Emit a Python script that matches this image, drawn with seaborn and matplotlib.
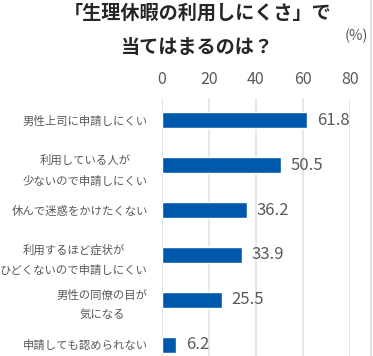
import matplotlib
matplotlib.use("Agg")
import matplotlib.pyplot as plt
from matplotlib.lines import Line2D
import pandas as pd
import seaborn as sns

# data
categories = [
    "男性上司に申請しにくい",
    "利用している人が\n少ないので申請しにくい",
    "休んで迷惑をかけたくない",
    "利用するほど症状が\nひどくないので申請しにくい",
    "男性の同僚の目が\n気になる",
    "申請しても認められない",
]
values = [61.8, 50.5, 36.2, 33.9, 25.5, 6.2]
x_ticks = [0, 20, 40, 60, 80]

title = "「生理休暇の利用しにくさ」で\n当てはまるのは？"
unit = "(%)"

text_gray = "#595959"
bar_blue = "#0058ad"
grid_gray = "#e3e3e3"

sns.set_theme(style="white")
plt.rcParams["font.family"] = ["Noto Sans CJK JP", "DejaVu Sans"]

df = pd.DataFrame({"item": categories, "pct": values})

fig = plt.figure(figsize=(3.73, 3.56), dpi=100)
ax = fig.add_axes([0.434, -0.031, 0.504, 0.756])

sns.barplot(data=df, x="pct", y="item", color=bar_blue, width=0.36,
            saturation=1, ax=ax)

ax.set_xlim(0, 80)
ax.set_xticks(x_ticks)
ax.xaxis.tick_top()
ax.tick_params(axis="x", length=0, pad=7, labelsize=11.5, labelcolor=text_gray)
ax.tick_params(axis="y", length=0, pad=10, labelsize=8.2, labelcolor=text_gray)
for lbl in ax.get_yticklabels():
    lbl.set_multialignment("center")
    lbl.set_linespacing(2.0)
ax.set_xlabel("")
ax.set_ylabel("")

# vertical gridlines
ax.grid(axis="x", color=grid_gray, linewidth=1.2)
ax.set_axisbelow(True)
for s in ax.spines.values():
    s.set_visible(False)
ax.axvline(0, color=grid_gray, linewidth=1.2, zorder=0)

ax.bar_label(ax.containers[0], fmt="%.1f", padding=7, fontsize=12,
             color=text_gray)

fig.text(0.53, 0.99, title, ha="center", va="top", fontsize=13.8,
         fontweight="bold", color="#262626", linespacing=2.05)
fig.text(0.955, 0.9, unit, ha="center", va="center", fontsize=10.5,
         color=text_gray)

# thin border on the right edge of the chart
fig.add_artist(Line2D([0.995, 0.995], [0, 1], transform=fig.transFigure,
                      color="#d5e3ea", linewidth=1.5))

fig.savefig("out.png", dpi=100)
